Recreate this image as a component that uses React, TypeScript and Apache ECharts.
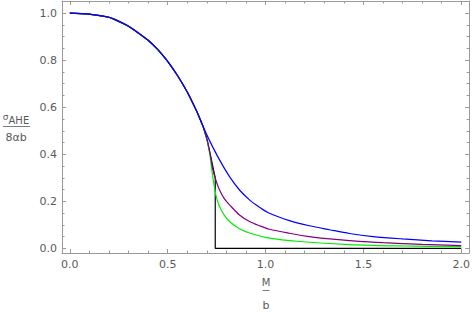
import React, { useEffect, useRef } from "react";
import * as echarts from "echarts";

// Shared part of all curves (x = M/b, y = sigma/(8 alpha b))
const mainCurve: [number, number][] = [
  [0, 1.0], [0.1, 0.996], [0.2, 0.983], [0.3, 0.945], [0.4, 0.885],
  [0.45, 0.845], [0.5, 0.795], [0.55, 0.735], [0.6, 0.665], [0.65, 0.58],
  [0.68, 0.52],
];
const blueTail: [number, number][] = [
  [0.714, 0.458], [0.765, 0.376], [0.816, 0.305], [0.867, 0.248], [0.918, 0.206],
  [0.969, 0.175], [1.02, 0.149], [1.122, 0.118], [1.224, 0.096], [1.327, 0.079],
  [1.429, 0.063], [1.55, 0.05], [1.7, 0.04], [1.85, 0.032], [2.0, 0.026],
];
const purpleTail: [number, number][] = [
  [0.7, 0.468], [0.715, 0.41], [0.731, 0.335], [0.748, 0.285], [0.765, 0.248],
  [0.79, 0.21], [0.816, 0.185], [0.867, 0.142], [0.918, 0.114], [0.969, 0.096],
  [1.02, 0.081], [1.122, 0.064], [1.224, 0.05], [1.327, 0.04], [1.429, 0.033],
  [1.6, 0.024], [1.8, 0.017], [2.0, 0.0115],
];
const greenTail: [number, number][] = [
  [0.7, 0.465], [0.715, 0.4], [0.731, 0.3], [0.74, 0.255], [0.748, 0.22],
  [0.765, 0.178], [0.79, 0.14], [0.816, 0.114], [0.867, 0.083], [0.918, 0.065],
  [1.02, 0.043], [1.173, 0.029], [1.429, 0.016], [1.7, 0.01], [2.0, 0.007],
];
const blackTail: [number, number][] = [
  [0.7, 0.465], [0.72, 0.39], [0.743, 0.3], [0.743, 0], [2.0, 0],
];

const xMajor = [0, 0.5, 1, 1.5, 2];
const xMinor = [0.1, 0.2, 0.3, 0.4, 0.6, 0.7, 0.8, 0.9, 1.1, 1.2, 1.3, 1.4, 1.6, 1.7, 1.8, 1.9];
const yMajor = [0, 0.2, 0.4, 0.6, 0.8, 1.0];
const yMinor = [0.05, 0.1, 0.15, 0.25, 0.3, 0.35, 0.45, 0.5, 0.55, 0.65, 0.7, 0.75, 0.85, 0.9, 0.95];

const FRAME = "#9a9a9a";
const LABEL = "#5a5a5a";
const FONT = "DejaVu Sans";

export default function App() {
  const ref = useRef<HTMLDivElement>(null);
  useEffect(() => {
    if (!ref.current) return;
    const chart = echarts.init(ref.current, null, { renderer: "svg" });
    const xr = { min: -0.04, max: 2.04 };
    const yr = { min: -0.02, max: 1.052 };
    const mkX = (pos: string, ticks: number[], len: number, line: boolean, labels: boolean) => ({
      type: "value", ...xr, position: pos,
      axisLine: { show: line, onZero: false, lineStyle: { color: FRAME, width: 1 } },
      axisTick: { show: true, inside: true, length: len, customValues: ticks, lineStyle: { color: FRAME } },
      axisLabel: labels
        ? { show: true, customValues: ticks, formatter: (v: number) => v.toFixed(1), color: LABEL, fontFamily: FONT, fontSize: 11, margin: 6 }
        : { show: false },
      splitLine: { show: false },
    });
    const mkY = (pos: string, ticks: number[], len: number, line: boolean, labels: boolean) => ({
      type: "value", ...yr, position: pos,
      axisLine: { show: line, onZero: false, lineStyle: { color: FRAME, width: 1 } },
      axisTick: { show: true, inside: true, length: len, customValues: ticks, lineStyle: { color: FRAME } },
      axisLabel: labels
        ? { show: true, customValues: ticks, formatter: (v: number) => v.toFixed(1), color: LABEL, fontFamily: FONT, fontSize: 11, margin: 5 }
        : { show: false },
      splitLine: { show: false },
    });
    const line = (data: [number, number][], color: string, z: number, smooth: boolean) => ({
      type: "line", data, xAxisIndex: 0, yAxisIndex: 0, showSymbol: false, symbol: "none",
      smooth: smooth ? 0.3 : false, z,
      lineStyle: { color, width: 1.2 },
    });
    chart.setOption({
      animation: false,
      backgroundColor: "#fff",
      grid: { left: 62, right: 3, top: 1, bottom: 59 },
      xAxis: [
        mkX("bottom", xMajor, 4, true, true),
        mkX("bottom", xMinor, 2.5, false, false),
        mkX("top", xMajor, 4, true, false),
        mkX("top", xMinor, 2.5, false, false),
      ],
      yAxis: [
        mkY("left", yMajor, 4, true, true),
        mkY("left", yMinor, 2.5, false, false),
        mkY("right", yMajor, 4, true, false),
        mkY("right", yMinor, 2.5, false, false),
      ],
      series: [
        line([...mainCurve, ...blackTail], "#000000", 2, false),
        line([...mainCurve, ...greenTail], "#00ee00", 3, true),
        line([...mainCurve, ...purpleTail], "#800080", 4, true),
        line([...mainCurve, ...blueTail], "#0000ff", 5, true),
      ],
      graphic: [
        {
          type: "text", x: 16, y: 119,
          style: {
            text: "{s|σ}{a|AHE}", align: "center", verticalAlign: "middle",
            rich: {
              s: { fontFamily: FONT, fontSize: 9, fill: LABEL, verticalAlign: "top" },
              a: { fontFamily: FONT, fontSize: 10, fill: LABEL, padding: [3, 0, 0, 0] },
            },
          },
        },
        { type: "line", shape: { x1: 3, y1: 126.5, x2: 30, y2: 126.5 }, style: { stroke: LABEL, lineWidth: 0.8 } },
        {
          type: "text", x: 16, y: 137,
          style: { text: "8αb", align: "center", verticalAlign: "middle", fontFamily: FONT, fontSize: 11, fill: LABEL },
        },
        {
          type: "text", x: 266, y: 282,
          style: { text: "M", align: "center", verticalAlign: "middle", fontFamily: FONT, fontSize: 10, fill: LABEL },
        },
        { type: "line", shape: { x1: 262.5, y1: 290.5, x2: 269.5, y2: 290.5 }, style: { stroke: LABEL, lineWidth: 0.8 } },
        {
          type: "text", x: 266, y: 305,
          style: { text: "b", align: "center", verticalAlign: "middle", fontFamily: FONT, fontSize: 11, fill: LABEL },
        },
      ],
    });
    return () => chart.dispose();
  }, []);
  return <div ref={ref} style={{ position: "fixed", left: 0, top: 0, width: 473, height: 312 }} />;
}
